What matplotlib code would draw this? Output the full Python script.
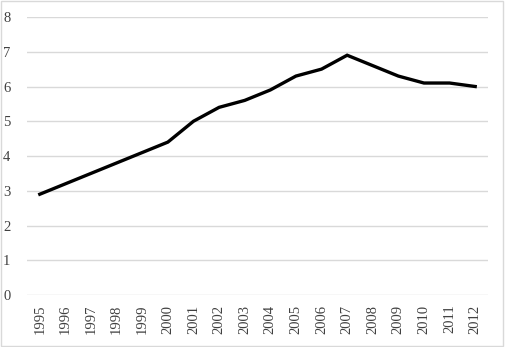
import matplotlib
matplotlib.use("Agg")
import matplotlib.pyplot as plt
from matplotlib.patches import Rectangle

years = [str(y) for y in range(1995, 2013)]
values = [2.9, 3.2, 3.5, 3.8, 4.1, 4.4, 5.0, 5.4, 5.6, 5.9, 6.3, 6.5, 6.9, 6.6, 6.3, 6.1, 6.1, 6.0]
yticks = [0, 1, 2, 3, 4, 5, 6, 7, 8]

plt.rcParams['font.family'] = ['Liberation Serif', 'DejaVu Serif']
fig = plt.figure(figsize=(5.05, 3.47), dpi=100)
ax = fig.add_axes([27/505, 1-295/347, (488-27)/505, (295-17)/347])

x = list(range(len(years)))
ax.plot(x, values, color='black', linewidth=2.4, solid_joinstyle='miter')
ax.set_xlim(-0.5, len(years)-0.5)
ax.set_ylim(0, 8)
ax.set_yticks(yticks)
ax.set_yticklabels([str(t) for t in yticks], fontsize=10.5, color='#404040')
ax.set_xticks(x)
ax.set_xticklabels(years, rotation=90, fontsize=10.5, color='#404040')
ax.tick_params(length=0)
ax.tick_params(axis='y', pad=12)
ax.tick_params(axis='x', pad=7)
for s in ax.spines.values():
    s.set_visible(False)
ax.grid(axis='y', color='#d9d9d9', linewidth=1)
ax.set_axisbelow(True)

fig.patches.append(Rectangle((0.002, 0.003), 0.994, 0.994, transform=fig.transFigure,
                             fill=False, edgecolor='#d9d9d9', linewidth=1))
fig.savefig('out.png', dpi=100)
